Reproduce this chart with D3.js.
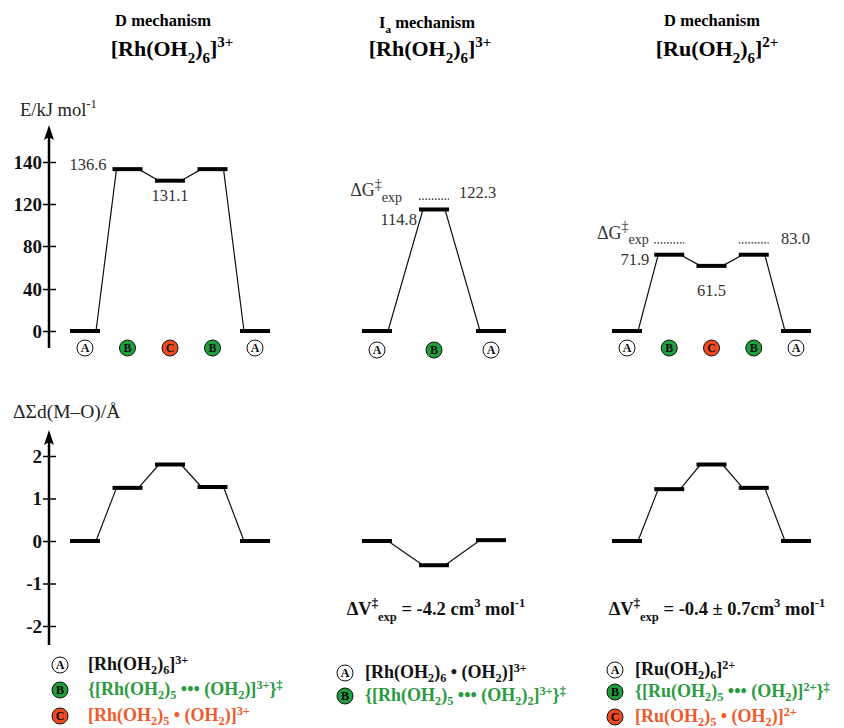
<!DOCTYPE html>
<html>
<head>
<meta charset="utf-8">
<script src="https://cdn.jsdelivr.net/npm/d3@7"></script>
<style>
  body { margin: 0; background: #fff; }
  svg text, svg tspan { font-family: "Liberation Serif", "Times New Roman", serif !important; }
</style>
</head>
<body>
<svg id="chart" width="844" height="728"></svg>
<script>
// states along the reaction path
const statesD = ["A", "B", "C", "B", "A"];
const statesIa = ["A", "B", "A"];

// energies, kJ/mol
const energyRhD = [0, 136.6, 131.1, 136.6, 0];
const energyRhIa = [0, 114.8, 0];
const energyRuD = [0, 71.9, 61.5, 71.9, 0];
const dGexpRhIa = 122.3;
const dGexpRuD = 83.0;

// change of summed M-O distances, Angstrom
const dmoRhD = [0, 1.25, 1.8, 1.27, 0];
const dmoRhIa = [0, -0.57, 0.02];
const dmoRuD = [0, 1.22, 1.8, 1.25, 0];

const energyTicks = [0, 40, 80, 120, 140];
const dmoTicks = [-2, -1, 0, 1, 2];

const mechTitles = ["D mechanism", "I_{a} mechanism", "D mechanism"];
const complexTitles = ["[Rh(OH_{2})_{6}]^{3+}", "[Rh(OH_{2})_{6}]^{3+}", "[Ru(OH_{2})_{6}]^{2+}"];
const dVexp = ["ΔV^{‡}_{exp} = -4.2 cm^{3} mol^{-1}", "ΔV^{‡}_{exp} = -0.4 ± 0.7cm^{3} mol^{-1}"];

const legendRhD = ["[Rh(OH_{2})_{6}]^{3+}", "{[Rh(OH_{2})_{5} ••• (OH_{2})]^{3+}}^{‡}", "[Rh(OH_{2})_{5} • (OH_{2})]^{3+}"];
const legendRhIa = ["[Rh(OH_{2})_{6} • (OH_{2})]^{3+}", "{[Rh(OH_{2})_{5} ••• (OH_{2})_{2}]^{3+}}^{‡}"];
const legendRuD = ["[Ru(OH_{2})_{6}]^{2+}", "{[Ru(OH_{2})_{5} ••• (OH_{2})]^{2+}}^{‡}", "[Ru(OH_{2})_{5} • (OH_{2})]^{2+}"];

const stateFill = { A: "#ffffff", B: "#1f9e3e", C: "#ee4b22" };
const legendColor = ["#111", "#2a9a40", "#f05a2a"];

const svg = d3.select("#chart");

// text with _{sub} and ^{sup} parts
function rich(sel, str, size, ratio = 0.68, subK = 0.3, supK = 0.42) {
  const re = /([_^])\{([^}]*)\}/g;
  let last = 0, m, shift = 0;
  const parts = [];
  while ((m = re.exec(str)) !== null) {
    if (m.index > last) parts.push([str.slice(last, m.index), ""]);
    parts.push([m[2], m[1] === "_" ? "sub" : "sup"]);
    last = re.lastIndex;
  }
  if (last < str.length) parts.push([str.slice(last), ""]);
  parts.forEach(([t, mode]) => {
    let target = 0;
    if (mode === "sub") target = size * subK;
    if (mode === "sup") target = -size * supK;
    sel.append("tspan")
      .attr("dy", target - shift)
      .attr("font-size", mode ? size * ratio : size)
      .text(t);
    shift = target;
  });
  return sel;
}

const yE = d3.scaleLinear().domain(energyTicks).range([331, 289, 246, 204, 162]);
const yD = d3.scaleLinear().domain([-2, 2]).range([626, 456]);

const panels = [
  { states: statesD, energy: energyRhD, dmo: dmoRhD, range: [85, 255], title: 163, complex: 172 },
  { states: statesIa, energy: energyRhIa, dmo: dmoRhIa, range: [377, 491], title: 427, complex: 430 },
  { states: statesD, energy: energyRuD, dmo: dmoRuD, range: [627, 796], title: 712, complex: 717 }
];
const levelW = 30;

panels.forEach((p, k) => {
  const x = d3.scalePoint().domain(d3.range(p.states.length)).range(p.range);
  p.x = x;

  svg.append("text")
    .attr("x", p.title).attr("y", k === 1 ? 28 : 26)
    .attr("text-anchor", "middle").attr("font-weight", "bold")
    .call(rich, mechTitles[k], 16.5);
  svg.append("text")
    .attr("x", p.complex).attr("y", 56)
    .attr("text-anchor", "middle").attr("font-weight", "bold")
    .call(rich, complexTitles[k], 22);

  [[p.energy, yE], [p.dmo, yD]].forEach(([vals, y]) => {
    const g = svg.append("g");
    // connectors
    g.selectAll("line.link")
      .data(d3.pairs(d3.range(vals.length)))
      .join("line")
      .attr("x1", d => x(d[0]) + levelW / 2 - 4)
      .attr("y1", d => y(vals[d[0]]))
      .attr("x2", d => x(d[1]) - levelW / 2 + 4)
      .attr("y2", d => y(vals[d[1]]))
      .attr("stroke", "#111").attr("stroke-width", 1.2);
    // levels
    g.selectAll("line.level")
      .data(vals)
      .join("line")
      .attr("x1", (d, i) => x(i) - levelW / 2)
      .attr("x2", (d, i) => x(i) + levelW / 2)
      .attr("y1", d => y(d)).attr("y2", d => y(d))
      .attr("stroke", "#000").attr("stroke-width", 4);
  });

  // state markers
  const mk = svg.append("g").selectAll("g")
    .data(p.states)
    .join("g")
    .attr("transform", (d, i) => `translate(${x(i)},${k === 1 ? 350 : 348})`);
  mk.append("circle").attr("r", 8)
    .attr("fill", d => stateFill[d]).attr("stroke", "#111").attr("stroke-width", 1);
  mk.append("text").attr("y", 4).attr("text-anchor", "middle")
    .attr("font-size", 12).attr("font-weight", "bold")
    .attr("fill", "#111").text(d => d);
});

// axes
function drawAxis(y, ticks, top, bottom, fmt) {
  const g = svg.append("g").attr("transform", "translate(49,0)");
  g.append("line")
    .attr("y1", bottom).attr("y2", top + 8)
    .attr("stroke", "#000").attr("stroke-width", 2.5);
  g.append("path")
    .attr("d", `M0,${top} L5,${top + 15} L0,${top + 12} L-5,${top + 15} Z`)
    .attr("fill", "#000");
  const ax = g.append("g")
    .call(d3.axisLeft(y).tickValues(ticks).tickSize(0).tickPadding(7).tickFormat(fmt));
  ax.select(".domain").remove();
  ax.selectAll(".tick line").attr("x1", -6).attr("x2", 7).attr("stroke", "#000").attr("stroke-width", 1.5);
  ax.selectAll(".tick text")
    .attr("font-weight", "bold")
    .attr("font-size", 19).attr("fill", "#111");
}
drawAxis(yE, energyTicks, 125, 348, d3.format("d"));
drawAxis(yD, dmoTicks, 430, 645, d => d < 0 ? "-" + Math.abs(d) : d);

svg.append("text").attr("x", 20).attr("y", 116).attr("fill", "#222")
  .call(rich, "E/kJ mol^{-1}", 18.5);
svg.append("text").attr("x", 13).attr("y", 418).attr("fill", "#222")
  .call(rich, "ΔΣd(M–O)/Å", 19.5);

// value labels
const lab = (x, y, anchor, str, ratio) => svg.append("text")
  .attr("x", x).attr("y", y).attr("dy", "0.35em")
  .attr("text-anchor", anchor).attr("font-size", 16.5).attr("fill", "#333")
  .call(rich, str, str.startsWith("Δ") ? 18 : 16.5, ratio);

const [pL, pM, pR] = panels;
lab(pL.x(1) - levelW / 2 - 6, yE(energyRhD[1]) + 1, "end", String(energyRhD[1]));
lab(pL.x(2), yE(energyRhD[2]) + 20, "middle", String(energyRhD[2]));

lab(pM.x(1) - levelW / 2 - 2, yE(energyRhIa[1]) + 16, "end", String(energyRhIa[1]));
lab(pM.x(1) + levelW / 2 + 10, yE(dGexpRhIa) - 1, "start", dGexpRhIa.toFixed(1));
lab(pM.x(1) - levelW / 2 - 17, yE(dGexpRhIa) - 3, "end", "ΔG^{‡}_{exp}", 0.78);

lab(pR.x(1) - levelW / 2 - 5, yE(energyRuD[1]) + 10, "end", String(energyRuD[1]));
lab(pR.x(2), yE(energyRuD[2]) + 30, "middle", String(energyRuD[2]));
lab(pR.x(4) - levelW / 2, yE(dGexpRuD) + 1, "start", dGexpRuD.toFixed(1));
lab(pR.x(0) - levelW / 2 - 15, yE(dGexpRuD) - 4, "start", "ΔG^{‡}_{exp}", 0.78);

// experimental dG lines
[[pM, [1], dGexpRhIa], [pR, [1, 3], dGexpRuD]].forEach(([p, idx, v]) => {
  svg.append("g").selectAll("line")
    .data(idx)
    .join("line")
    .attr("x1", i => p.x(i) - levelW / 2).attr("x2", i => p.x(i) + levelW / 2)
    .attr("y1", yE(v)).attr("y2", yE(v))
    .attr("stroke", "#222").attr("stroke-width", 1.3).attr("stroke-dasharray", "1.6,1.6");
});

// dV labels
[[436, dVexp[0]], [717, dVexp[1]]].forEach(([cx, str]) => {
  svg.append("text").attr("x", cx).attr("y", 615)
    .attr("text-anchor", "middle").attr("font-weight", "bold").attr("fill", "#111")
    .call(rich, str, 18.5);
});

// legends
const legends = [
  { items: legendRhD, x: 60, tx: 88, ys: [665, 690, 716] },
  { items: legendRhIa, x: 345, tx: 365, ys: [673, 696] },
  { items: legendRuD, x: 615, tx: 635, ys: [670, 692, 717] }
];
legends.forEach(L => {
  const g = svg.append("g").selectAll("g")
    .data(L.items)
    .join("g");
  g.append("circle")
    .attr("cx", L.x).attr("cy", (d, i) => L.ys[i]).attr("r", 8)
    .attr("fill", (d, i) => stateFill["ABC"[i]]).attr("stroke", "#111");
  g.append("text")
    .attr("x", L.x).attr("y", (d, i) => L.ys[i] + 4)
    .attr("text-anchor", "middle").attr("font-size", 12).attr("font-weight", "bold")
    .text((d, i) => "ABC"[i]);
  g.append("text")
    .attr("x", L.tx).attr("y", (d, i) => L.ys[i] + 5)
    .attr("font-weight", "bold")
    .attr("fill", (d, i) => legendColor[i])
    .each(function (d) { rich(d3.select(this), d, 18, 0.68, 0.24, 0.36); });
});
</script>
</body>
</html>
